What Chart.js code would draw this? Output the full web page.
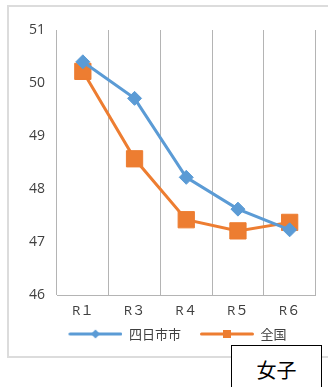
<!DOCTYPE html>
<html>
<head>
<meta charset="utf-8">
<script src="https://cdn.jsdelivr.net/npm/chart.js@4/dist/chart.umd.min.js"></script>
<style>
  html, body { margin: 0; padding: 0; background: #fff; }
  #wrap { position: relative; width: 328px; height: 387px; overflow: hidden; }
  #frame { position: absolute; left: 7px; top: 5px; width: 340px; height: 349px; border: 2px solid #dcdcdc; }
  #chartBox { position: absolute; left: 0; top: 0; width: 328px; height: 387px; }
  #tag {
    position: absolute; left: 231px; top: 345px; width: 89px; height: 60px;
    border: 1px solid #000; background: #fff;
    font: 20px 'Noto Sans CJK JP', sans-serif; color: #000;
    text-align: center; line-height: 48px;
  }
</style>
</head>
<body>
<div id="wrap">
  <div id="frame"></div>
  <div id="chartBox"><canvas id="scoreChart"></canvas></div>
  <div id="tag">女子</div>
</div>
<script>
// 年度
const periods = ['R１', 'R３', 'R４', 'R５', 'R６'];
// 四日市市 / 全国 の平均値
const yokkaichi = [50.40, 49.71, 48.22, 47.62, 47.23];
const national = [50.22, 48.57, 47.42, 47.21, 47.37];
// 縦軸の範囲
const yMin = 46;
const yMax = 51;

const BLUE = '#5B9BD5';
const ORANGE = '#ED7D31';
const TEXT = '#404040';
const GRID = '#b4b4b4';
const AXIS_FONT = "'Open Sans', 'Noto Sans CJK JP', sans-serif";

// 凡例の線の長さと、項目の前に空ける幅
const SWATCH_LINE = 54;
const SWATCH_GAP = 17;

Chart.defaults.font.family = "'Noto Sans CJK JP', 'Noto Sans', sans-serif";

// 凡例用: 線＋マーカーの小さな画像（左側は余白）
function legendSwatch(color, shape) {
  const c = document.createElement('canvas');
  c.width = SWATCH_GAP + SWATCH_LINE;
  c.height = 12;
  const g = c.getContext('2d');
  const x0 = SWATCH_GAP;
  const mid = x0 + SWATCH_LINE / 2;
  g.strokeStyle = color;
  g.fillStyle = color;
  g.lineWidth = 3;
  g.lineCap = 'round';
  g.beginPath();
  g.moveTo(x0 + 1.5, 6);
  g.lineTo(x0 + SWATCH_LINE - 1.5, 6);
  g.stroke();
  g.beginPath();
  if (shape === 'diamond') {
    g.moveTo(mid, 1.5); g.lineTo(mid + 4.5, 6); g.lineTo(mid, 10.5); g.lineTo(mid - 4.5, 6);
  } else {
    g.rect(mid - 4, 2, 8, 8);
  }
  g.closePath();
  g.fill();
  return c;
}

const swatches = [legendSwatch(BLUE, 'diamond'), legendSwatch(ORANGE, 'square')];

const ctx = document.getElementById('scoreChart').getContext('2d');
new Chart(ctx, {
  type: 'line',
  data: {
    labels: periods,
    datasets: [
      {
        label: '四日市市',
        data: yokkaichi,
        borderColor: BLUE,
        backgroundColor: BLUE,
        borderWidth: 3,
        pointStyle: 'rectRot',
        pointRadius: 7,
        pointBorderWidth: 1,
        tension: 0
      },
      {
        label: '全国',
        data: national,
        borderColor: ORANGE,
        backgroundColor: ORANGE,
        borderWidth: 3,
        pointStyle: 'rect',
        pointRadius: 11.5,
        pointBorderWidth: 1,
        tension: 0
      }
    ]
  },
  options: {
    responsive: true,
    maintainAspectRatio: false,
    animation: false,
    layout: { padding: { left: 12, right: 2, top: 30, bottom: 36.5 } },
    plugins: {
      tooltip: { enabled: false },
      legend: {
        position: 'bottom',
        labels: {
          usePointStyle: true,
          pointStyleWidth: SWATCH_GAP + SWATCH_LINE,
          padding: 2,
          color: TEXT,
          font: { size: 13 },
          generateLabels(chart) {
            return chart.data.datasets.map((ds, i) => ({
              text: ds.label,
              pointStyle: swatches[i],
              fillStyle: ds.borderColor,
              strokeStyle: ds.borderColor,
              lineWidth: 0,
              fontColor: TEXT,
              hidden: false,
              datasetIndex: i
            }));
          }
        }
      }
    },
    scales: {
      x: {
        offset: true,
        afterFit(scale) { scale.height = 30.5; },
        grid: { offset: true, color: GRID, lineWidth: 1, drawTicks: false },
        border: { display: true, color: GRID, width: 1 },
        ticks: { color: TEXT, font: { family: AXIS_FONT, size: 13.5 }, padding: 8, maxRotation: 0 }
      },
      y: {
        min: yMin,
        max: yMax,
        afterFit(scale) { scale.width = 45; },
        grid: { display: false, drawTicks: false },
        border: { display: false },
        ticks: { stepSize: 1, color: TEXT, font: { family: AXIS_FONT, size: 14 }, padding: 12 }
      }
    }
  }
});
</script>
</body>
</html>
